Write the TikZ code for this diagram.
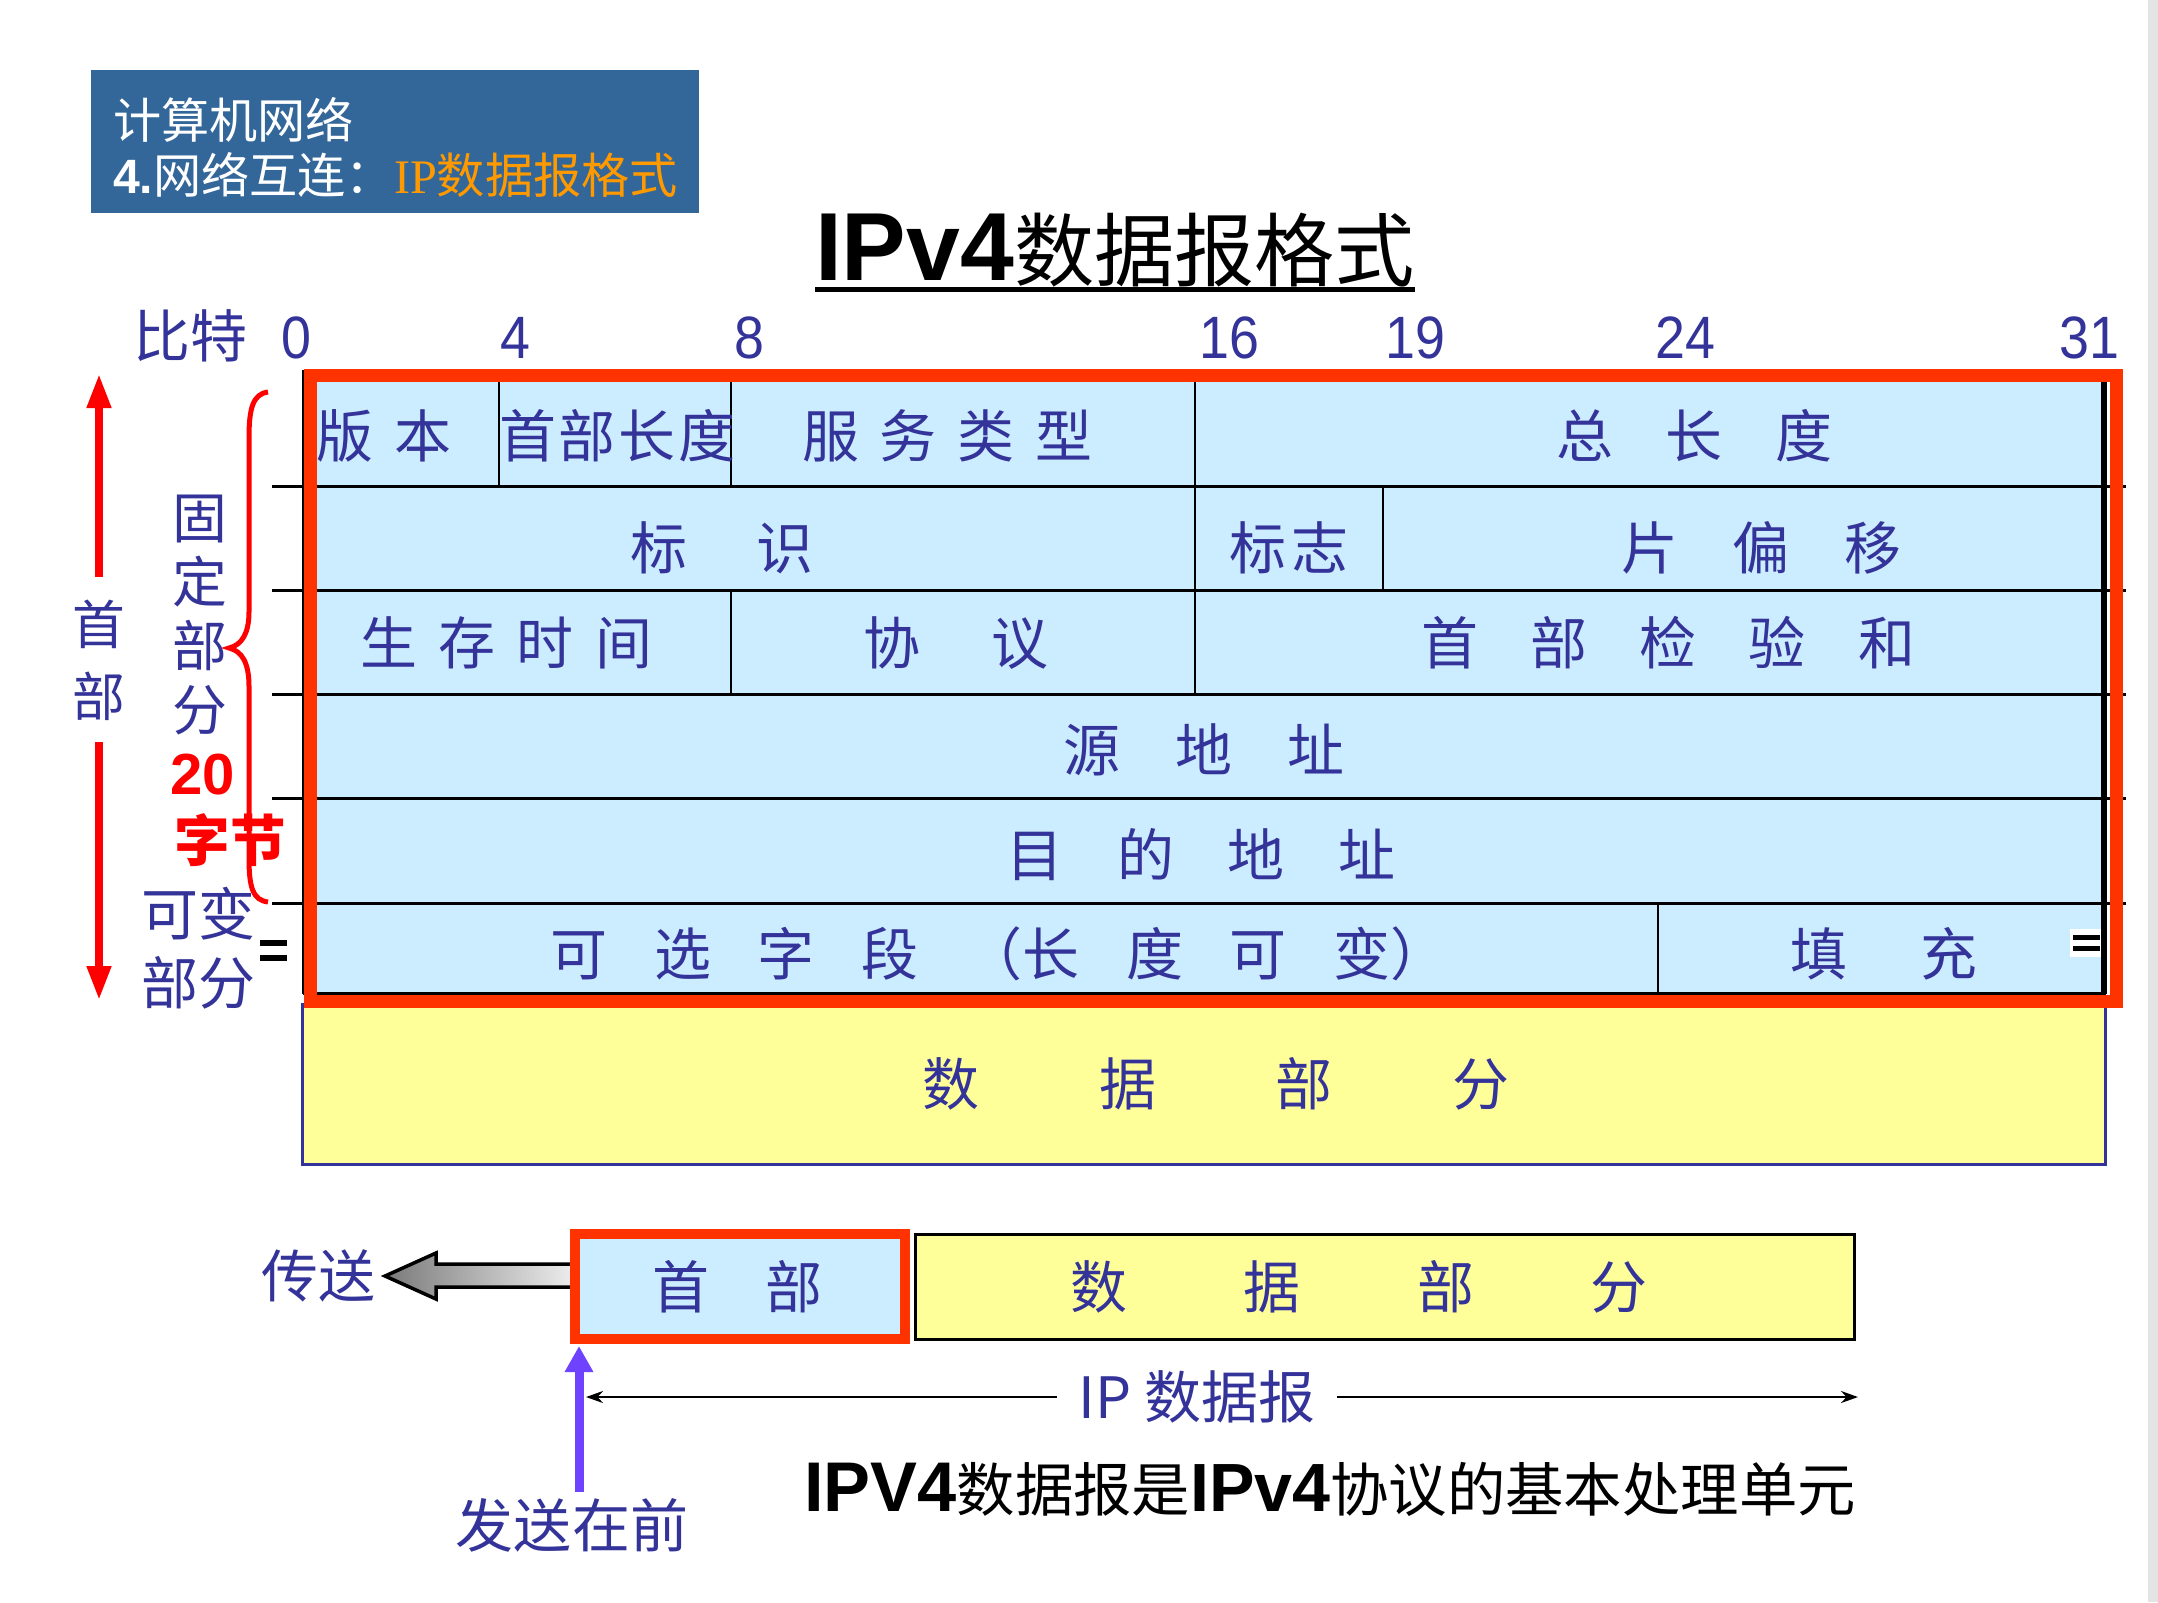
\documentclass[tikz,border=0pt]{standalone}
\usepackage{fontspec}
\setmainfont{Noto Sans CJK SC}
\newfontfamily\latinsans{Liberation Sans}
\newfontfamily\latinserif{Liberation Serif}
\usetikzlibrary{arrows.meta}

\newlength\pxu
\setlength\pxu{0.01cm}
\newcommand\fsz[1]{\fontsize{#1}{#1}\selectfont}
\newcommand\spreadbox[2]{\makebox[#1\pxu][s]{#2}}

\definecolor{ink}{HTML}{333399}
\definecolor{cellblue}{HTML}{CCECFF}
\definecolor{pale}{HTML}{FFFF99}
\definecolor{hred}{HTML}{FF3300}
\definecolor{pure}{HTML}{FF0000}
\definecolor{steel}{HTML}{336699}
\definecolor{amber}{HTML}{FF9900}
\definecolor{violetarrow}{HTML}{6F42FF}
\definecolor{edgegray}{HTML}{E4E4E4}
\definecolor{shadedark}{HTML}{7A7A7A}
\definecolor{shadelight}{HTML}{EEEEEE}

\begin{document}
\begin{tikzpicture}[x=0.01cm,y=-0.01cm,
  every node/.style={inner sep=0pt,outer sep=0pt},
  field/.style={text=ink,font=\fsz{16.2}},
  bitnum/.style={text=ink,font=\latinsans\fsz{17}},
  rowrule/.style={line width=0.03cm},
  colrule/.style={line width=0.02cm},
  redmark/.style={pure,line width=0.075cm,-{Triangle[width=0.23cm,length=0.34cm]}},
]
\fill[white] (0,0) rectangle (2158,1602);
\useasboundingbox (0,0) rectangle (2158,1602);
\fill[edgegray] (2148,0) rectangle (2158,1602);

% ---- course banner ----
\node[fill=steel,minimum width=6.08cm,minimum height=1.43cm] (banner) at (395,141.5) {};
\node[anchor=west,text=white,font=\fsz{13.7}] (course) at (113,120) {计算机网络};
\node[anchor=west,text=white,font=\fsz{13.7}] (chapter) at (113,175)
  {{\latinsans\bfseries 4.}网络互连：\textcolor{amber}{{\latinserif IP}数据报格式}};

% ---- title ----
\node[font=\fsz{22.8}] (title) at (1115,250) {{\latinsans\bfseries\fsz{27.5}IPv4}数据报格式};
\draw[line width=0.05cm] (title.west |- 0,289) -- (title.east |- 0,289);

% ---- bit ruler ----
\node[field] (bitword) at (190,336) {比特};
\foreach \n/\x in {0/296,4/515,8/749,16/1229,19/1415,24/1685,31/2089}
  \node[bitnum] (bit\n) at (\x,338) {\scalebox{0.9}[1]{\n}};

% ---- header grid ----
\fill[cellblue] (303,381) rectangle (2106,994);
\foreach \y in {486,590,694,798,903}
  \draw[rowrule] (272,\y) -- (2126,\y);
\draw[rowrule] (303,993) -- (2106,993);
\draw[colrule] (303,370) -- (303,994);
\draw[line width=0.055cm] (2104,381) -- (2104,994);
\draw[colrule] (499,381) -- (499,486) (731,381) -- (731,486) (1195,381) -- (1195,486);
\draw[colrule] (1195,486) -- (1195,590) (1383,486) -- (1383,590);
\draw[colrule] (731,590) -- (731,694) (1195,590) -- (1195,694);
\draw[colrule] (1658,903) -- (1658,994);

% field labels
\node[field] (version)  at (384,436)  {\spreadbox{135}{版\hfill 本}};
\node[field] (ihl)      at (617,436)  {\spreadbox{236}{首\hfill 部\hfill 长\hfill 度}};
\node[field] (tos)      at (947,436)  {\spreadbox{290}{服\hfill 务\hfill 类\hfill 型}};
\node[field] (totlen)   at (1694,436) {\spreadbox{276}{总\hfill 长\hfill 度}};
\node[field] (ident)    at (722,548)  {\spreadbox{184}{标\hfill 识}};
\node[field] (flags)    at (1289,548) {\spreadbox{119}{标\hfill 志}};
\node[field] (fragoff)  at (1761,548) {\spreadbox{280}{片\hfill 偏\hfill 移}};
\node[field] (ttl)      at (506,643)  {\spreadbox{292}{生\hfill 存\hfill 时\hfill 间}};
\node[field] (proto)    at (956,643)  {\spreadbox{185}{协\hfill 议}};
\node[field] (cksum)    at (1668,643) {\spreadbox{494}{首\hfill 部\hfill 检\hfill 验\hfill 和}};
\node[field] (srcaddr)  at (1204,750) {\spreadbox{281}{源\hfill 地\hfill 址}};
\node[field] (dstaddr)  at (1201,855) {\spreadbox{389}{目\hfill 的\hfill 地\hfill 址}};
\node[field] (options)  at (999,954)  {\spreadbox{897}{可\hfill 选\hfill 字\hfill 段\hfill （长\hfill 度\hfill 可\hfill 变）}};
\node[field] (padding)  at (1884,954) {\spreadbox{187}{填\hfill 充}};

% ---- payload ----
\node[draw=ink,fill=pale,line width=0.03cm,minimum width=18.02cm,minimum height=1.59cm]
  (payload) at (1204,1084.5) {};
\node[field] (payloadtext) at (1216,1084) {\spreadbox{587}{数\hfill 据\hfill 部\hfill 分}};

% ---- header frame ----
\draw[hred,line width=0.13cm] (310,375.5) rectangle (2116,1001);

% break marks of the variable part
\draw[line width=0.065cm] (260,943) -- (287,943) (260,958) -- (287,958);
\fill[white] (2070,929) rectangle (2101,957);
\draw[line width=0.055cm] (2073,937.5) -- (2100,937.5) (2073,948.5) -- (2100,948.5);

% ---- left annotations ----
\coordinate (hdtopgap) at (99,577);
\coordinate (hdtop) at (99,374);
\coordinate (hdbotgap) at (99,742);
\coordinate (hdbot) at (99,1000);
\draw[redmark] (hdtopgap) -- (hdtop);
\draw[redmark] (hdbotgap) -- (hdbot);
\node[text=ink,font=\fontsize{15}{20.5}\selectfont,align=center] (headword) at (99,660) {首\\部};
\node[text=ink,font=\fontsize{15.6}{18.2}\selectfont,align=center] (fixedword) at (200,615) {固\\定\\部\\分};
\node[text=pure,font=\latinsans\bfseries\fsz{16.5}] (twenty) at (203,775) {20};
\node[text=pure,font=\bfseries\fsz{15.8}] (bytesword) at (230,840) {字节};
\node[text=ink,font=\fontsize{16.2}{19.6}\selectfont,align=center] (varword) at (198,948.5) {可变\\部分};
\draw[pure,line width=0.05cm]
  (268,392) .. controls (253,394) and (249,408) .. (249,438)
  -- (249,612) .. controls (249,633) and (242,645) .. (229,648)
  .. controls (242,651) and (249,663) .. (249,686)
  -- (249,858) .. controls (249,888) and (253,900) .. (268,902);

% ---- datagram strip ----
\shade[left color=shadedark,right color=shadelight]
  (575,1264) -- (436,1264) -- (436,1253) -- (385,1276) -- (436,1299) -- (436,1287) -- (575,1287) -- cycle;
\draw[line width=0.035cm]
  (575,1264) -- (436,1264) -- (436,1253) -- (385,1276) -- (436,1299) -- (436,1287) -- (575,1287);
\node[draw=black,fill=pale,line width=0.03cm,minimum width=9.38cm,minimum height=1.05cm]
  (datapart) at (1385,1287) {};
\node[field] (datatext) at (1359,1287) {\spreadbox{577}{数\hfill 据\hfill 部\hfill 分}};
\node[draw=hred,fill=cellblue,line width=0.1cm,minimum width=3.3cm,minimum height=1.05cm]
  (hdr) at (740,1286.5) {};
\node[field] (hdrtext) at (737,1287) {\spreadbox{170}{首\hfill 部}};
\node[text=ink,font=\fsz{16.2}] (sendword) at (318,1276) {传送};

\coordinate (sendtail) at (579,1492);
\draw[violetarrow,line width=0.09cm,-{Triangle[width=0.27cm,length=0.26cm]}]
  (sendtail) -- ([yshift=-0.07cm]sendtail |- hdr.south);
\node[text=ink,font=\fsz{16.5}] (firstword) at (572,1525) {发送在前};

\coordinate (dgleft) at (586,1397);
\coordinate (dgright) at (1858,1397);
\draw[line width=0.025cm,{Stealth[length=0.17cm,width=0.12cm]}-{Stealth[length=0.17cm,width=0.12cm]}]
  (dgleft) -- (dgright);
\node[fill=white,inner xsep=0.22cm,inner ysep=0.05cm,text=ink,font=\fsz{16.2}] (dglabel) at (1197,1397) {IP 数据报};

\node[font=\fsz{16.6}] (summary) at (1330,1489)
  {{\latinsans\bfseries\fsz{20}IPV4}数据报是{\latinsans\bfseries\fsz{19.4}IPv4}协议的基本处理单元};
\end{tikzpicture}
\end{document}
